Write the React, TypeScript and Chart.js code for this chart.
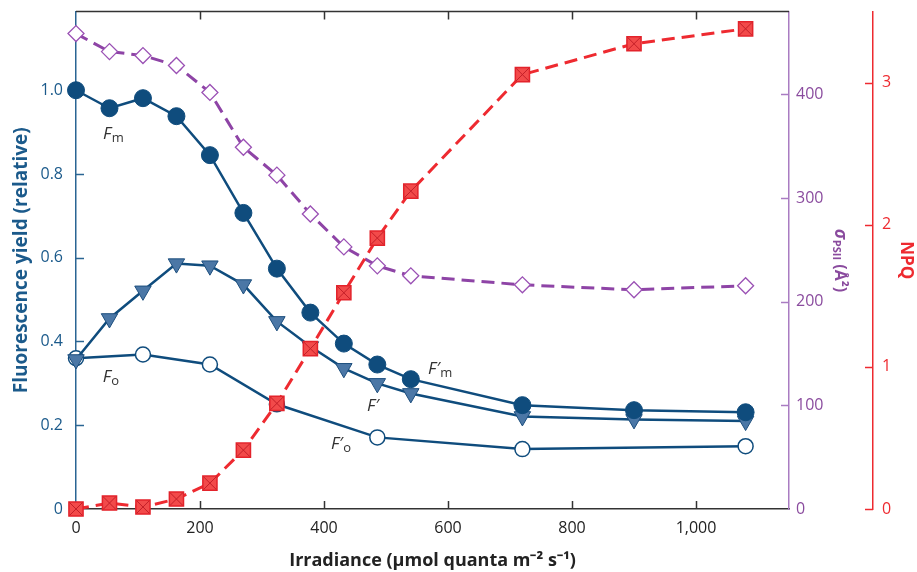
import React, { useEffect, useRef } from 'react';
import { Chart, registerables } from 'chart.js';

Chart.register(...registerables);

// ---------- data ----------
const irradiance = [0, 54, 108, 162, 216, 270, 324, 378, 432, 486, 540, 720, 900, 1080];
const fmValues = [1.0, 0.957, 0.981, 0.938, 0.845, 0.707, 0.574, 0.469, 0.395, 0.345, 0.31, 0.248, 0.236, 0.231];
const fPrimeValues = [0.357, 0.455, 0.521, 0.586, 0.581, 0.536, 0.448, 0.388, 0.336, 0.3, 0.276, 0.221, 0.214, 0.21];
const foIrradiance = [0, 108, 216, 324, 486, 720, 1080];
const foValues = [0.36, 0.369, 0.345, 0.25, 0.171, 0.143, 0.15];
const sigmaValues = [458.7, 441.3, 437.5, 427.9, 401.9, 349.0, 322.1, 284.6, 252.9, 234.6, 225.0, 216.3, 211.5, 215.4];
const npqValues = [0, 0.042, 0.014, 0.07, 0.182, 0.414, 0.743, 1.128, 1.521, 1.906, 2.236, 3.056, 3.273, 3.378];

const xTicks = [0, 200, 400, 600, 800, 1000];
const yTicks = [0, 0.2, 0.4, 0.6, 0.8, 1.0];
const sigmaTicks = [0, 100, 200, 300, 400];
const npqTicks = [0, 1, 2, 3];

// curve labels: prime, subscript, anchor in data units (x, fluorescence yield)
const curveLabels = [
  { prime: false, sub: 'm', x: 60, y: 0.898 },
  { prime: false, sub: 'o', x: 56, y: 0.317 },
  { prime: true, sub: 'm', x: 587, y: 0.336 },
  { prime: true, sub: '', x: 479, y: 0.248 },
  { prime: true, sub: 'o', x: 427, y: 0.157 },
];

const FONT = '"Open Sans", sans-serif';
const BLUE = '#0f4c7d';
const BLUE_AXIS = '#2a6593';
const BLUE_TEXT = '#1b5a8b';
const TRI_FILL = '#4b77a6';
const PURPLE = '#8e44a6';
const PURPLE_AXIS = '#a97cc2';
const PURPLE_TEXT = '#8a4b9e';
const RED = '#ee2a30';

const xy = (xs: number[], ys: number[]) => xs.map((x, i) => ({ x, y: ys[i] }));
const setTicks = (vals: number[]) => (s: any) => {
  s.ticks = vals.map((v) => ({ value: v }));
};

const decorPlugin = {
  id: 'decor',
  beforeDatasetsDraw(chart: any) {
    const { ctx, chartArea, scales } = chart;
    const { left, right, top, bottom } = chartArea;
    const L = 8;
    const line = (x1: number, y1: number, x2: number, y2: number) => {
      ctx.beginPath();
      ctx.moveTo(x1, y1);
      ctx.lineTo(x2, y2);
      ctx.stroke();
    };
    ctx.save();
    ctx.lineWidth = 1.5;
    ctx.strokeStyle = '#333';
    line(left, top, right, top);
    xTicks.forEach((v) => {
      if (v === 0) return;
      const px = Math.round(scales.x.getPixelForValue(v)) + 0.5;
      line(px, bottom, px, bottom - L);
      line(px, top, px, top + L);
    });
    ctx.strokeStyle = BLUE_AXIS;
    yTicks.forEach((v) => {
      if (v === 0) return;
      const py = Math.round(scales.y.getPixelForValue(v)) + 0.5;
      line(left, py, left + L, py);
    });
    ctx.strokeStyle = PURPLE_AXIS;
    sigmaTicks.forEach((v) => {
      if (v === 0) return;
      const py = Math.round(scales.ySigma.getPixelForValue(v)) + 0.5;
      line(right, py, right - L, py);
    });
    ctx.strokeStyle = RED;
    const nx = scales.yNPQ.left;
    npqTicks.forEach((v) => {
      const py = Math.round(scales.yNPQ.getPixelForValue(v)) + 0.5;
      line(nx, py, nx - L, py);
    });
    ctx.restore();
  },
  afterDatasetsDraw(chart: any) {
    const { ctx, chartArea, scales } = chart;
    ctx.save();
    // sigma PSII axis title (rotated, with subscript)
    const sx = scales.ySigma.right - 33;
    const sy = (chartArea.top + chartArea.bottom) / 2;
    ctx.translate(sx, sy);
    ctx.rotate(Math.PI / 2);
    ctx.fillStyle = PURPLE_TEXT;
    ctx.textBaseline = 'middle';
    ctx.textAlign = 'left';
    const f1 = `italic bold 17px ${FONT}`;
    const f2 = `bold 11px ${FONT}`;
    const f3 = `bold 16px ${FONT}`;
    ctx.font = f1;
    const w1 = ctx.measureText('σ').width;
    ctx.font = f2;
    const w2 = ctx.measureText('PSII').width;
    ctx.font = f3;
    const w3 = ctx.measureText(' (Å²)').width;
    let cx = -(w1 + w2 + w3) / 2;
    ctx.font = f1;
    ctx.fillText('σ', cx, 0);
    cx += w1 + 0.5;
    ctx.font = f2;
    ctx.fillText('PSII', cx, 4);
    cx += w2;
    ctx.font = f3;
    ctx.fillText(' (Å²)', cx, 0);
    ctx.restore();

    // curve labels
    ctx.save();
    ctx.fillStyle = '#333';
    ctx.textAlign = 'left';
    ctx.textBaseline = 'alphabetic';
    curveLabels.forEach((lb) => {
      const px = scales.x.getPixelForValue(lb.x);
      const py = scales.y.getPixelForValue(lb.y);
      const main = lb.prime ? 'F′' : 'F';
      const mf = `italic 17px ${FONT}`;
      const sf = `13px ${FONT}`;
      ctx.font = mf;
      const wm = ctx.measureText(main).width;
      ctx.font = sf;
      const ws = lb.sub ? ctx.measureText(lb.sub).width : 0;
      const x0 = px - (wm + ws) / 2;
      ctx.font = mf;
      ctx.fillText(main, x0, py + 6);
      if (lb.sub) {
        ctx.font = sf;
        ctx.fillText(lb.sub, x0 + wm + 0.5, py + 9);
      }
    });
    ctx.restore();
  },
};

export default function App() {
  const ref = useRef<HTMLCanvasElement>(null);

  useEffect(() => {
    if (!ref.current) return;
    Chart.defaults.font.family = FONT;
    const chart = new Chart(ref.current, {
      type: 'line',
      data: {
        datasets: [
          {
            label: 'NPQ cross',
            data: xy(irradiance, npqValues),
            yAxisID: 'yNPQ',
            showLine: false,
            pointStyle: 'crossRot',
            pointRadius: 9,
            pointBorderColor: '#c41f28',
            pointBorderWidth: 1,
            order: 0,
            clip: false,
          } as any,
          {
            label: 'NPQ',
            data: xy(irradiance, npqValues),
            yAxisID: 'yNPQ',
            borderColor: RED,
            borderWidth: 3,
            borderDash: [13, 7],
            pointStyle: 'rect',
            pointRadius: 10,
            pointBackgroundColor: '#f24a4a',
            pointBorderColor: '#e3232b',
            pointBorderWidth: 1.5,
            order: 1,
            clip: false,
          },
          {
            label: 'sigma',
            data: xy(irradiance, sigmaValues),
            yAxisID: 'ySigma',
            borderColor: PURPLE,
            borderWidth: 3,
            borderDash: [13, 7],
            pointStyle: 'rectRot',
            pointRadius: 8,
            pointBackgroundColor: '#ffffff',
            pointBorderColor: '#9a50b4',
            pointBorderWidth: 1.3,
            order: 2,
            clip: false,
          },
          {
            label: 'Fm',
            data: xy(irradiance, fmValues),
            yAxisID: 'y',
            borderColor: BLUE,
            borderWidth: 2.5,
            pointStyle: 'circle',
            pointRadius: 8.5,
            pointBackgroundColor: BLUE,
            pointBorderColor: BLUE,
            pointBorderWidth: 1,
            order: 3,
            clip: false,
          },
          {
            label: "F'",
            data: xy(irradiance, fPrimeValues),
            yAxisID: 'y',
            borderColor: BLUE,
            borderWidth: 2.5,
            pointStyle: 'triangle',
            pointRotation: 180,
            pointRadius: 9.5,
            pointBackgroundColor: TRI_FILL,
            pointBorderColor: '#1d4f7e',
            pointBorderWidth: 1,
            order: 4,
            clip: false,
          },
          {
            label: 'Fo',
            data: xy(foIrradiance, foValues),
            yAxisID: 'y',
            borderColor: BLUE,
            borderWidth: 2.5,
            pointStyle: 'circle',
            pointRadius: 7.5,
            pointBackgroundColor: '#ffffff',
            pointBorderColor: BLUE,
            pointBorderWidth: 1.5,
            order: 5,
            clip: false,
          },
        ],
      },
      options: {
        responsive: false,
        animation: false,
        events: [],
        layout: { padding: { top: 10, left: 0, right: 0, bottom: 0 } },
        elements: { line: { tension: 0 } },
        plugins: { legend: { display: false }, tooltip: { enabled: false } },
        scales: {
          x: {
            type: 'linear',
            min: 0,
            max: 1150,
            afterBuildTicks: setTicks(xTicks),
            afterFit: (s: any) => {
              s.height = 63;
              s.paddingLeft = 0;
              s.paddingRight = 0;
            },
            grid: { display: false, drawTicks: false },
            border: { color: '#333', width: 1.5 },
            ticks: {
              color: '#222',
              font: { size: 16 },
              padding: 10,
              maxRotation: 0,
              autoSkip: false,
              callback: (v: any) => Number(v).toLocaleString('en-US'),
            },
            title: {
              display: true,
              text: 'Irradiance (µmol quanta m⁻² s⁻¹)',
              color: '#222',
              font: { size: 18, weight: 'bold' },
              padding: { top: 0, bottom: 0 },
            },
          },
          y: {
            type: 'linear',
            position: 'left',
            min: 0,
            max: 1.188,
            afterBuildTicks: setTicks(yTicks),
            afterFit: (s: any) => {
              s.width = 76;
              s.paddingTop = 0;
              s.paddingBottom = 0;
            },
            grid: { display: false, drawTicks: false },
            border: { color: BLUE_AXIS, width: 1.5 },
            ticks: {
              color: BLUE_TEXT,
              font: { size: 16 },
              padding: 13,
              callback: (v: any) => (v === 0 ? '0' : Number(v).toFixed(1)),
            },
            title: {
              display: true,
              text: 'Fluorescence yield (relative)',
              color: BLUE_TEXT,
              font: { size: 19, weight: 'bold' },
              padding: { top: 10, bottom: 0 },
            },
          },
          ySigma: {
            type: 'linear',
            position: 'right',
            weight: 0,
            min: 0,
            max: 480,
            afterBuildTicks: setTicks(sigmaTicks),
            afterFit: (s: any) => {
              s.width = 84;
              s.paddingTop = 0;
              s.paddingBottom = 0;
            },
            grid: { display: false, drawTicks: false },
            border: { color: PURPLE_AXIS, width: 1.5 },
            ticks: {
              color: PURPLE_TEXT,
              font: { size: 16 },
              padding: 7,
              callback: (v: any) => String(v),
            },
          },
          yNPQ: {
            type: 'linear',
            position: 'right',
            weight: 1,
            min: 0,
            max: 3.5,
            afterBuildTicks: setTicks(npqTicks),
            afterFit: (s: any) => {
              s.width = 44;
              s.paddingTop = 0;
              s.paddingBottom = 0;
            },
            grid: { display: false, drawTicks: false },
            border: { color: RED, width: 1.5 },
            ticks: {
              color: RED,
              font: { size: 16 },
              padding: 9,
              callback: (v: any) => String(v),
            },
            title: {
              display: true,
              text: 'NPQ',
              color: RED,
              font: { size: 17, weight: 'bold' },
              padding: { top: 1, bottom: 0 },
            },
          },
        } as any,
      },
      plugins: [decorPlugin],
    });
    return () => chart.destroy();
  }, []);

  return (
    <div style={{ position: 'fixed', left: 0, top: 0, width: 917, height: 572, background: '#ffffff' }}>
      <canvas ref={ref} width={917} height={572} style={{ display: 'block' }} />
    </div>
  );
}
